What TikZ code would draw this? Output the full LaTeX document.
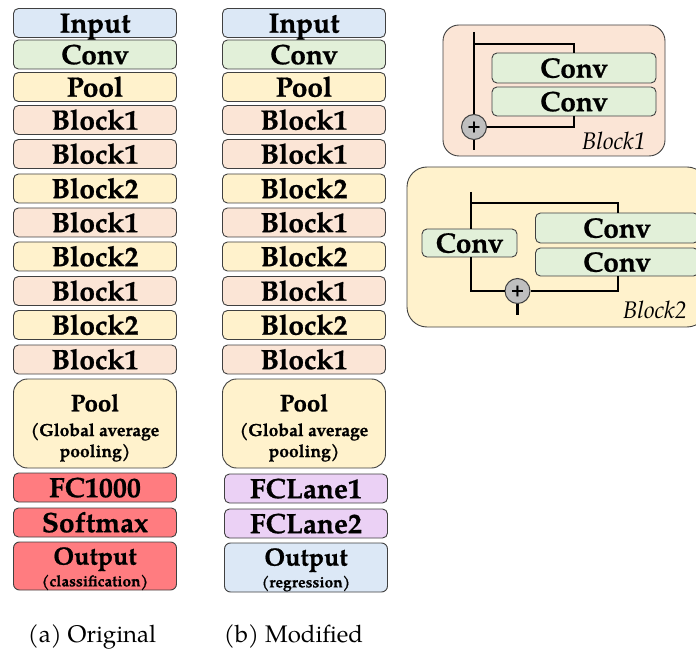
\documentclass[tikz,border=0pt]{standalone}
\usepackage{fontspec}
\setmainfont{texgyrepagella}[Extension=.otf, UprightFont=*-regular, BoldFont=*-bold, ItalicFont=*-italic, BoldItalicFont=*-bolditalic, BoldFeatures={FakeBold=0.7}]
\definecolor{cin}{RGB}{220,232,246}
\definecolor{cconv}{RGB}{226,240,217}
\definecolor{cpool}{RGB}{255,242,204}
\definecolor{cblk}{RGB}{251,229,214}
\definecolor{cred}{RGB}{255,124,128}
\definecolor{cpur}{RGB}{235,209,245}
\definecolor{lineg}{RGB}{64,64,64}
\definecolor{cplus}{RGB}{191,191,191}
\begin{document}
\begin{tikzpicture}[x=1pt,y=-1pt,
  box/.style={draw=lineg, line width=0.9pt, rounded corners=5pt, inner sep=0pt,
    minimum width=163pt, minimum height=29pt, text height=19.3pt, text depth=0pt,
    font=\bfseries\fontsize{28}{28}\selectfont},
  bigbox/.style={draw=lineg, line width=0.9pt, rounded corners=14pt, inner sep=0pt,
    minimum width=163pt},
  ln/.style={inner sep=0pt, text height=#1, text depth=0pt},
  panel/.style={draw=lineg, line width=0.9pt, rounded corners=16pt, inner sep=0pt},
  wire/.style={line width=2.6pt, black},
  plus/.style={circle, draw=lineg, line width=1pt, fill=cplus, minimum size=25pt, inner sep=0pt,
    font=\bfseries\fontsize{18}{18}\selectfont},
  captxt/.style={inner sep=0pt, font=\fontsize{24}{24}\selectfont},
  blab/.style={inner sep=0pt, anchor=base east, font=\itshape\fontsize{24}{24}\selectfont}]
\useasboundingbox (0,0) rectangle (696,652);
% ---------- left column ----------
\foreach \n/\y/\c/\t in {1/23/cin/Input, 2/54.5/cconv/Conv, 3/87/cpool/Pool,
  4/120/cblk/Block1, 5/154/cblk/Block1, 6/188.5/cpool/Block2, 7/222.5/cblk/Block1,
  8/256.5/cpool/Block2, 9/291/cblk/Block1, 10/325/cpool/Block2, 11/359.5/cblk/Block1,
  13/487.5/cred/FC1000, 14/522.5/cred/Softmax}
  \node[box, fill=\c] (L\n) at (95,\y) {\t};
\node[bigbox, fill=cpool, minimum height=89pt] (L12) at (95,423.5) {};
\node[ln=16.5pt, font=\bfseries\fontsize{24}{24}\selectfont] (L12a) at (95,403) {Pool};
\node[ln=12pt, font=\bfseries\fontsize{17.5}{17.5}\selectfont] (L12b) at (95,430) {(Global average};
\node[ln=12pt, font=\bfseries\fontsize{17.5}{17.5}\selectfont] (L12c) at (95,451) {pooling)};
\node[bigbox, rounded corners=6pt, fill=cred, minimum height=48pt] (L15) at (95,566) {};
\node[ln=17.2pt, font=\bfseries\fontsize{25}{25}\selectfont] (L15a) at (95,556) {Output};
\node[ln=10.7pt, font=\bfseries\fontsize{15.5}{15.5}\selectfont] (L15b) at (95,581) {(classification)};
% ---------- right column ----------
\foreach \n/\y/\c/\t in {1/23/cin/Input, 2/54.5/cconv/Conv, 3/87/cpool/Pool,
  4/120/cblk/Block1, 5/154/cblk/Block1, 6/188.5/cpool/Block2, 7/222.5/cblk/Block1,
  8/256.5/cpool/Block2, 9/291/cblk/Block1, 10/325/cpool/Block2, 11/359.5/cblk/Block1}
  \node[box, fill=\c] (R\n) at (304,\y) {\t};
\node[box, fill=cpur] (R13) at (306,488.5) {FCLane1};
\node[box, fill=cpur] (R14) at (306,523.5) {FCLane2};
\node[bigbox, fill=cpool, minimum height=89pt] (R12) at (304,423.5) {};
\node[ln=16.5pt, font=\bfseries\fontsize{24}{24}\selectfont] (R12a) at (304,403) {Pool};
\node[ln=12pt, font=\bfseries\fontsize{17.5}{17.5}\selectfont] (R12b) at (304,430) {(Global average};
\node[ln=12pt, font=\bfseries\fontsize{17.5}{17.5}\selectfont] (R12c) at (304,451) {pooling)};
\node[bigbox, rounded corners=6pt, fill=cin, minimum height=49pt] (R15) at (306,567.5) {};
\node[ln=17.2pt, font=\bfseries\fontsize{25}{25}\selectfont] (R15a) at (306,557) {Output};
\node[ln=10.7pt, font=\bfseries\fontsize{15.5}{15.5}\selectfont] (R15b) at (306,582) {(regression)};
% ---------- captions ----------
\node[captxt, anchor=base] (capa) at (92,642) {(a) Original};
\node[captxt, anchor=base] (capb) at (293.5,642) {(b) Modified};
% ---------- Block1 panel ----------
\node[panel, fill=cblk, minimum width=222pt, minimum height=131pt] (P1) at (554,90.5) {};
\node[box, fill=cconv, minimum width=164pt, minimum height=30pt] (P1c1) at (574,68) {Conv};
\node[box, fill=cconv, minimum width=164pt, minimum height=29pt] (P1c2) at (574,101.5) {Conv};
\node[plus] (P1p) at (474,127) {+};
\coordinate (P1in) at (474,32);
\coordinate (P1out) at (474,150);
\coordinate (P1br) at (474,44);
\draw[wire] (P1in) -- (P1p);
\draw[wire] (P1p) -- (P1out);
\draw[wire] (P1br) -| (P1c1.north);
\draw[wire] (P1c2.south) |- (P1p.east);
\node[blab] (P1l) at (646,150) {Block1};
% ---------- Block2 panel ----------
\node[panel, fill=cpool, minimum width=300pt, minimum height=160pt, rounded corners=20pt] (P2) at (557,247) {};
\node[box, fill=cconv, minimum width=95pt, minimum height=28pt] (P2a) at (469.5,243) {Conv};
\node[box, fill=cconv, minimum width=163pt, minimum height=30pt] (P2c1) at (617,228) {Conv};
\node[box, fill=cconv, minimum width=163pt, minimum height=28pt] (P2c2) at (617,262) {Conv};
\node[plus] (P2p) at (517.5,291) {+};
\coordinate (P2in) at (471,192);
\coordinate (P2br) at (471,203);
\coordinate (P2x) at (618,0);
\coordinate (P2out) at (517.5,315);
\draw[wire] (P2in) -- (P2a.north -| P2in);
\draw[wire] (P2br) -| (P2c1.north -| P2x);
\draw[wire] (P2a.south -| P2in) |- (P2p.west);
\draw[wire] (P2c2.south -| P2x) |- (P2p.east);
\draw[wire] (P2p) -- (P2out);
\node[blab] (P2l) at (687,319) {Block2};
\end{tikzpicture}
\end{document}
